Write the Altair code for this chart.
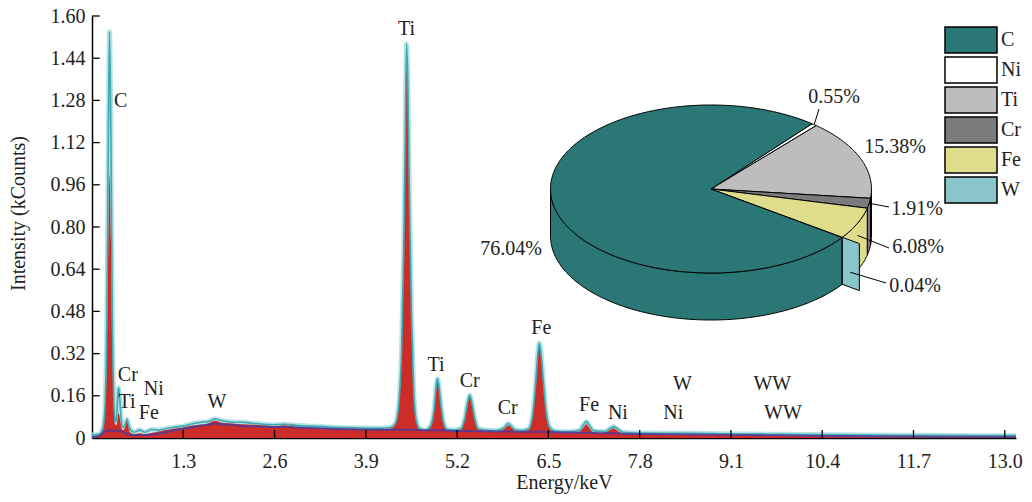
import numpy as np
import pandas as pd
import altair as alt

FONT = "Liberation Serif"

# ---------------- spectrum data ----------------
energy = [0.00, 0.05, 0.10, 0.14, 0.17, 0.19, 0.21, 0.23, 0.25, 0.27, 0.29, 0.31, 0.33, 0.35, 0.37, 0.38,
          0.40, 0.42, 0.44, 0.47, 0.50, 0.52, 0.55, 0.60, 0.68, 0.75, 0.85, 0.95, 1.05, 1.15, 1.30, 1.45,
          1.55, 1.65, 1.75, 1.85, 2.00, 2.15, 2.30, 2.45, 2.60, 2.75, 2.90, 3.10, 3.30, 3.50, 3.70, 3.90,
          4.10, 4.25, 4.32, 4.37, 4.41, 4.44, 4.46, 4.48, 4.50, 4.52, 4.55, 4.58, 4.62, 4.67, 4.75, 4.82,
          4.87, 4.90, 4.92, 4.94, 4.97, 5.01, 5.06, 5.15, 5.25, 5.31, 5.35, 5.38, 5.41, 5.45, 5.50, 5.60,
          5.75, 5.85, 5.90, 5.93, 5.97, 6.02, 6.12, 6.22, 6.28, 6.32, 6.35, 6.37, 6.40, 6.43, 6.47, 6.52,
          6.60, 6.80, 6.95, 7.00, 7.04, 7.08, 7.14, 7.30, 7.38, 7.43, 7.48, 7.56, 7.80, 8.20, 8.60, 9.00,
          9.40, 9.80, 10.20, 10.60, 11.00, 11.50, 12.00, 12.50, 13.16]
red = [0.005, 0.006, 0.008, 0.020, 0.050, 0.120, 0.300, 0.700, 1.000, 0.750, 0.350, 0.120, 0.050, 0.050, 0.085, 0.095,
       0.070, 0.040, 0.030, 0.040, 0.075, 0.040, 0.020, 0.015, 0.018, 0.015, 0.020, 0.025, 0.030, 0.035, 0.040, 0.048,
       0.050, 0.055, 0.065, 0.058, 0.055, 0.052, 0.050, 0.048, 0.045, 0.048, 0.043, 0.040, 0.038, 0.036, 0.035, 0.034,
       0.034, 0.036, 0.050, 0.120, 0.320, 0.700, 1.100, 1.470, 1.300, 0.900, 0.450, 0.180, 0.060, 0.030, 0.027, 0.040,
       0.100, 0.180, 0.215, 0.190, 0.120, 0.050, 0.028, 0.026, 0.030, 0.070, 0.130, 0.155, 0.130, 0.070, 0.032, 0.025,
       0.024, 0.030, 0.042, 0.048, 0.040, 0.028, 0.024, 0.030, 0.090, 0.200, 0.310, 0.355, 0.300, 0.200, 0.090, 0.035,
       0.022, 0.020, 0.025, 0.040, 0.052, 0.040, 0.022, 0.020, 0.030, 0.037, 0.028, 0.017, 0.014, 0.013, 0.012, 0.011,
       0.010, 0.009, 0.008, 0.007, 0.006, 0.005, 0.005, 0.004, 0.004]
teal = [0.012, 0.012, 0.014, 0.025, 0.060, 0.150, 0.400, 1.050, 1.540, 1.100, 0.450, 0.150, 0.060, 0.080, 0.170, 0.190,
        0.130, 0.060, 0.040, 0.050, 0.070, 0.050, 0.030, 0.022, 0.030, 0.022, 0.032, 0.030, 0.035, 0.040, 0.045, 0.055,
        0.060, 0.062, 0.072, 0.066, 0.060, 0.060, 0.055, 0.052, 0.050, 0.052, 0.048, 0.045, 0.043, 0.040, 0.039, 0.038,
        0.037, 0.040, 0.055, 0.130, 0.340, 0.720, 1.120, 1.495, 1.330, 0.930, 0.470, 0.190, 0.065, 0.035, 0.030, 0.045,
        0.105, 0.190, 0.225, 0.200, 0.125, 0.055, 0.032, 0.030, 0.035, 0.075, 0.135, 0.162, 0.135, 0.075, 0.036, 0.030,
        0.028, 0.035, 0.048, 0.055, 0.046, 0.032, 0.028, 0.035, 0.095, 0.210, 0.320, 0.360, 0.310, 0.210, 0.095, 0.040,
        0.026, 0.024, 0.030, 0.050, 0.062, 0.050, 0.028, 0.024, 0.036, 0.043, 0.035, 0.022, 0.019, 0.018, 0.018, 0.016,
        0.015, 0.014, 0.013, 0.012, 0.011, 0.010, 0.010, 0.009, 0.009]
background = [0.004, 0.005, 0.008, 0.015, 0.022, 0.025, 0.027, 0.028, 0.028, 0.028, 0.028, 0.028, 0.028, 0.028, 0.027, 0.027,
              0.026, 0.025, 0.022, 0.018, 0.015, 0.013, 0.011, 0.010, 0.010, 0.011, 0.013, 0.017, 0.022, 0.028, 0.035, 0.042,
              0.047, 0.050, 0.055, 0.052, 0.050, 0.045, 0.045, 0.043, 0.042, 0.042, 0.040, 0.038, 0.036, 0.034, 0.033, 0.032,
              0.031, 0.031, 0.031, 0.031, 0.031, 0.031, 0.031, 0.031, 0.031, 0.031, 0.031, 0.030, 0.030, 0.030, 0.029, 0.029,
              0.029, 0.029, 0.029, 0.028, 0.028, 0.028, 0.028, 0.027, 0.027, 0.027, 0.027, 0.027, 0.027, 0.026, 0.026, 0.026,
              0.025, 0.025, 0.025, 0.025, 0.025, 0.024, 0.024, 0.024, 0.024, 0.024, 0.024, 0.024, 0.024, 0.024, 0.023, 0.023,
              0.022, 0.021, 0.020, 0.020, 0.020, 0.020, 0.019, 0.018, 0.018, 0.018, 0.017, 0.016, 0.015, 0.014, 0.013, 0.012,
              0.011, 0.010, 0.009, 0.008, 0.007, 0.006, 0.005, 0.005, 0.004]

peak_names = ["C", "Cr", "Ti", "Ni", "Fe", "W", "Ti", "Ti", "Cr", "Cr", "Fe", "Fe", "Ni", "W", "Ni", "WW", "WW"]
peak_name_E = [0.41, 0.51, 0.50, 0.88, 0.81, 1.78, 4.48, 4.90, 5.38, 5.92, 6.40, 7.08, 7.49, 8.41, 8.28, 9.69, 9.84]
peak_name_I = [1.278, 0.238, 0.136, 0.185, 0.095, 0.136, 1.551, 0.276, 0.216, 0.113, 0.416, 0.125, 0.095, 0.204, 0.095, 0.204, 0.095]

x_ticks = [1.3, 2.6, 3.9, 5.2, 6.5, 7.8, 9.1, 10.4, 11.7, 13.0]
y_ticks = [0, 0.16, 0.32, 0.48, 0.64, 0.80, 0.96, 1.12, 1.28, 1.44, 1.60]

# ---------------- composition pie data ----------------
elements = ["C", "Ni", "Ti", "Cr", "Fe", "W"]
shares = [76.04, 0.55, 15.38, 1.91, 6.08, 0.04]
pie_colors = ["#2a7775", "#ffffff", "#bdbdbd", "#7b7b7d", "#dfdc8b", "#8bc5cc"]

# ---------------- layout ----------------
W_PLOT, H_PLOT = 924, 422
X_MAX = 13.16
CX, CY, RX, RY, DEPTH = 619.0, 173.0, 160.5, 84.0, 47.0   # pie layout in plot pixels
START_DEG = -51.0
DRAW_ORDER = ["Ni", "Ti", "Cr", "Fe", "W", "C"]
EXPLODE = {"W": 0.13}


def pt(a, r=1.0, dx=0.0, dy=0.0):
    t = np.radians(a)
    return CX + dx + r * RX * np.cos(t), CY + dy + r * RY * np.sin(t)


def arc(a0, a1, **kw):
    n = max(2, int(np.ceil(abs(a1 - a0))) + 1)
    return [pt(a, **kw) for a in np.linspace(a0, a1, n)]


share_of = dict(zip(elements, shares))
spans = {}
acc = START_DEG
for el in DRAW_ORDER:
    w = share_of[el] * 3.6
    spans[el] = (acc, acc + w)
    acc += w

side_rows, top_rows, face_rows = [], [], []


def add(rows, pid, el, pts):
    for i, (x, y) in enumerate(pts):
        rows.append(dict(pid=pid, el=el, i=i, x=x, y=y))


pid = 0
for el in DRAW_ORDER:
    a0, a1 = spans[el]
    if el in EXPLODE:
        e = EXPLODE[el]
        mid = np.radians((a0 + a1) / 2)
        ox, oy = e * RX * np.cos(mid), e * RY * np.sin(mid)
        p = [pt(a0), pt(a0, dx=ox, dy=oy), pt(a0, dx=ox, dy=oy + DEPTH), pt(a0, dy=DEPTH), pt(a0)]
        add(face_rows, pid, el, p)
        pid += 1
        continue
    for lo_w, hi_w in [(0, 180), (360, 540)]:
        lo, hi = max(a0, lo_w), min(a1, hi_w)
        if hi > lo:
            top = arc(lo, hi)
            bot = arc(hi, lo, dy=DEPTH)
            add(side_rows, pid, el, top + bot + [top[0]])
            pid += 1
    add(top_rows, pid, el, [(CX, CY)] + arc(a0, a1) + [(CX, CY)])
    pid += 1

sides_df = pd.DataFrame(side_rows)
tops_df = pd.DataFrame(top_rows)
face_df = pd.DataFrame(face_rows)

# pie labels (layout positions in plot pixels)
lab_text = ["76.04%", "0.55%", "15.38%", "1.91%", "6.08%", "0.04%"]
lab_x = [419, 742, 803, 825, 826, 823]
lab_y = [233, 81, 131, 193, 231, 270]
labels_df = pd.DataFrame({"t": lab_text, "x": lab_x, "y": lab_y})

ni_mid = sum(spans["Ni"]) / 2
cr_mid = sum(spans["Cr"]) / 2
fe_mid = sum(spans["Fe"]) / 2
w_a = spans["W"][0]
s1 = pt(ni_mid)
s2 = pt(cr_mid)
s3 = pt(fe_mid, dy=12)
s4 = pt(w_a, r=1.06, dy=32)
leaders_df = pd.DataFrame({
    "x": [s1[0], s2[0], s3[0], s4[0]],
    "y": [s1[1], s2[1], s3[1], s4[1]],
    "x2": [727, 797, 797, 794],
    "y2": [93, 191, 232, 267],
})

# ---------------- spectrum chart ----------------
spec = pd.DataFrame({"E": energy, "red": red, "teal": teal, "bkg": background})
xs = alt.Scale(domain=[0, X_MAX], nice=False, zero=False)
ys = alt.Scale(domain=[0, 1.6], nice=False)

x_axis = alt.Axis(values=x_ticks, format=".1f", ticks=False, labelPadding=13, labelFont=FONT,
                  labelFontSize=20, labelColor="#222", domainColor="black", domainWidth=1.5, grid=False,
                  title="Energy/keV", titleFont=FONT, titleFontSize=20, titleFontWeight="normal",
                  titleColor="#222", titlePadding=1, titleX=472)
y_axis = alt.Axis(values=y_ticks, labelExpr="datum.value == 0 ? '0' : format(datum.value, '.2f')",
                  ticks=False, labelPadding=7, labelFont=FONT, labelFontSize=20, labelColor="#222",
                  domainColor="black", domainWidth=1.5, grid=False,
                  title="Intensity (kCounts)", titleFont=FONT, titleFontSize=20, titleFontWeight="normal",
                  titleColor="#222", titlePadding=22, titleY=197)

base = alt.Chart(spec)
teal_halo = base.mark_line(color="#a8dde0", strokeWidth=5, opacity=0.85, interpolate="monotone", clip=True).encode(
    x=alt.X("E:Q", scale=xs, axis=x_axis), y=alt.Y("teal:Q", scale=ys, axis=y_axis))
red_area = base.mark_area(color="#cd2c28", interpolate="monotone", clip=True).encode(
    x="E:Q", y="red:Q")
teal_line = base.mark_line(color="#3fa9b1", strokeWidth=1.6, interpolate="monotone", clip=True).encode(
    x="E:Q", y="teal:Q")
bkg_line = base.mark_line(color="#4b3a9c", strokeWidth=2, opacity=0.85, interpolate="monotone", clip=True).encode(
    x="E:Q", y="bkg:Q")

xt = alt.Chart(pd.DataFrame({"E": x_ticks})).mark_rule(color="black", strokeWidth=1.3).encode(
    x="E:Q", y=alt.datum(0), y2=alt.datum(0.03))
yt = alt.Chart(pd.DataFrame({"v": y_ticks[1:]})).mark_rule(color="black", strokeWidth=1.3).encode(
    y="v:Q", x=alt.datum(0), x2=alt.datum(0.11))

peak_txt = alt.Chart(pd.DataFrame({"n": peak_names, "E": peak_name_E, "I": peak_name_I})).mark_text(
    font=FONT, fontSize=20, color="#222", align="center", baseline="middle").encode(
    x="E:Q", y="I:Q", text="n:N")

spectrum = alt.layer(teal_halo, red_area, teal_line, bkg_line, xt, yt, peak_txt)

# ---------------- pie chart ----------------
px = alt.Scale(domain=[0, W_PLOT], nice=False, zero=False)
py = alt.Scale(domain=[0, H_PLOT], nice=False, zero=False, reverse=True)
legend = alt.Legend(orient="none", legendX=865, legendY=10, title=None, padding=0,
                    symbolType="M-2,-1H2V1H-2Z", symbolSize=676, symbolStrokeColor="black",
                    symbolStrokeWidth=1.5, symbolOpacity=1, labelFont=FONT, labelFontSize=20,
                    labelColor="#222", labelOffset=16, rowPadding=-4)
fill = alt.Fill("el:N", scale=alt.Scale(domain=elements, range=pie_colors), legend=legend)


def poly(df):
    return alt.Chart(df).mark_line(stroke="black", strokeWidth=1, strokeJoin="round").encode(
        x=alt.X("x:Q", scale=px, axis=None), y=alt.Y("y:Q", scale=py, axis=None),
        detail="pid:N", order="i:Q", fill=fill)


pie_labels = alt.Chart(labels_df).mark_text(font=FONT, fontSize=20, color="#222", align="center",
                                            baseline="middle").encode(
    x=alt.X("x:Q", scale=px, axis=None), y=alt.Y("y:Q", scale=py, axis=None), text="t:N")
leaders = alt.Chart(leaders_df).mark_rule(color="black", strokeWidth=1).encode(
    x=alt.X("x:Q", scale=px, axis=None), y=alt.Y("y:Q", scale=py, axis=None), x2="x2:Q", y2="y2:Q")

pie = alt.layer(poly(sides_df), poly(tops_df), poly(face_df), leaders, pie_labels)

chart = alt.layer(spectrum, pie).resolve_scale(x="independent", y="independent").properties(
    width=W_PLOT, height=H_PLOT,
    padding={"left": 84, "top": 8, "right": 8, "bottom": 56},
    autosize=alt.AutoSizeParams(type="none"),
    background="white",
).configure_view(stroke=None)

chart.save("out.html", embed_options={"renderer": "svg", "actions": False})
